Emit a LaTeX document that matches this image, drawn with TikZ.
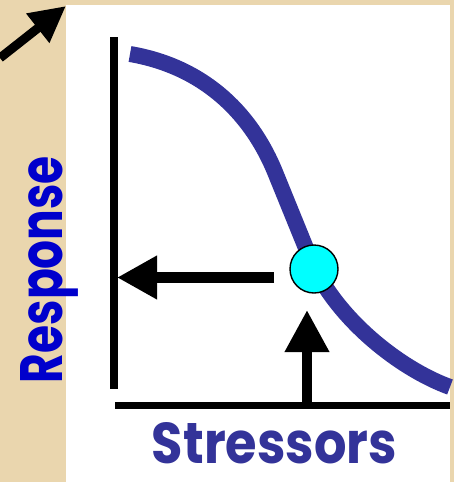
\documentclass[tikz,border=0pt]{standalone}
\usepackage{fontspec}
\newfontfamily\labfont{Poppins}
\usetikzlibrary{arrows.meta}
\definecolor{parch}{RGB}{234,214,174}
\definecolor{curveblue}{RGB}{51,51,153}
\definecolor{respblue}{RGB}{0,0,204}
\definecolor{markcyan}{RGB}{0,255,255}
\tikzset{
  axisline/.style={line width=#1, black},
  bigarrow/.style={line width=#1, black},
  dosecurve/.style={line width=16pt, curveblue},
  pointmark/.style={circle, draw=black, line width=1.4pt, fill=markcyan, minimum size=48pt, inner sep=0pt},
  labeltext/.style={inner sep=0pt, font=\labfont\bfseries}
}
\begin{document}
\begin{tikzpicture}[x=1pt,y=-1pt]
\useasboundingbox (0,0) rectangle (454,482);
\fill[parch] (0,0) rectangle (454,482);
\fill[white] (66,5) rectangle (450,482);
% top-left arrow
\coordinate (tlstart) at (0,58);
\coordinate (tltip) at (66,6);
\draw[bigarrow=9pt, -{Triangle[length=36pt,width=35pt]}] (tlstart) -- (tltip);
% axes
\coordinate (vtop) at (114,37);
\coordinate (vbot) at (114,389);
\coordinate (hleft) at (115,405.5);
\coordinate (hright) at (450,405.5);
\draw[axisline=8pt] (vtop) -- (vbot);
\draw[axisline=7pt] (hleft) -- (hright);
% curve
\draw[dosecurve] (130,54) .. controls (200,66) and (249,109) .. (275,172)
  -- (310,258) .. controls (335,318) and (400,369) .. (450,387);
% point on curve
\node[pointmark] (pt) at (314,269) {};
% arrows
\coordinate (harrstart) at (274,277.5);
\coordinate (harrtip) at (117,277.5);
\draw[bigarrow=11pt, -{Triangle[length=40pt,width=41pt]}] (harrstart) -- (harrtip);
\coordinate (varrstart) at (307,405);
\coordinate (varrtip) at (307,310);
\draw[bigarrow=10pt, -{Triangle[length=42pt,width=42pt]}] (varrstart) -- (varrtip);
% labels
\node[labeltext, text=respblue, anchor=base, rotate=90] (resp) at (62,269.5) {\resizebox{227pt}{42pt}{Response}};
\node[labeltext, text=curveblue, anchor=base] (stress) at (274.5,463) {\resizebox{245pt}{41pt}{Stressors}};
\end{tikzpicture}
\end{document}
